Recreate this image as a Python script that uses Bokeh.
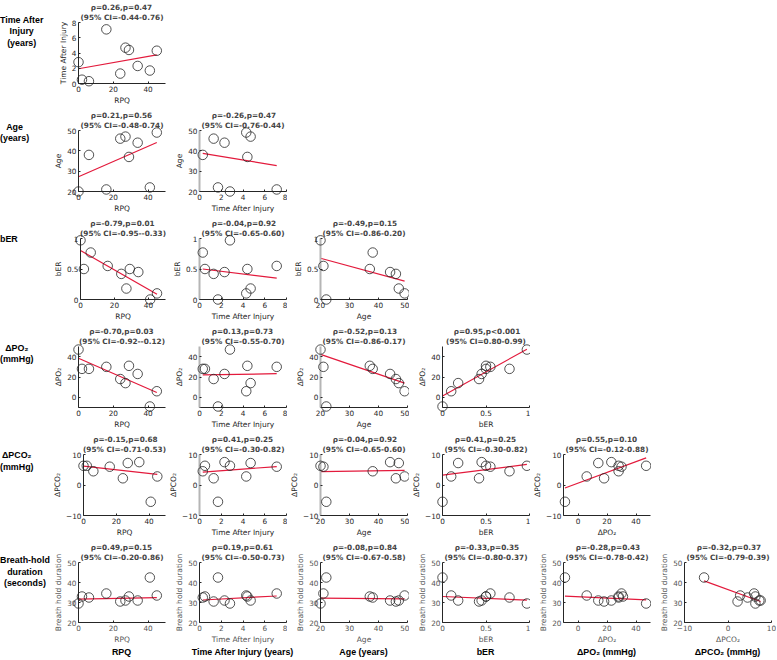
import numpy as np
from bokeh.plotting import figure
from bokeh.layouts import column, row
from bokeh.models import FixedTicker, Range1d, Div
from bokeh.embed import file_html
from bokeh.resources import INLINE

# ---------------- data (one value per subject, NaN = missing) ----------------
rpq = [0, 2, 6, 16, 24, 27, 29, 34, 41, 45]
time_after_injury = [2.8, 0.5, 0.3, 7.1, 1.3, 4.7, 4.4, 2.3, 1.7, 4.3]
age = [20, np.nan, 38, 21, 46, 47, 37, 44, 22, 49]
ber = [0.97, 0.5, 0.77, 0.55, 0.42, 0.18, 0.5, 0.45, 0.0, 0.1]
dpo2 = [47, 28, 28, 30, 18, 14, 31, 23, -9, 6]
dpco2 = [6.3, 6.3, 4.5, 6.0, 2.2, 7.2, np.nan, 7.5, -5.5, 2.8]
breath_hold = [29.5, 33, 32.5, 34.5, 30.5, 31, 33, 31, 42.5, 33.5]

variables = [rpq, time_after_injury, age, ber, dpo2, dpco2, breath_hold]
axis_names = ["RPQ", "Time After Injury", "Age", "bER", "ΔPO₂", "ΔPCO₂", "Breath hold duration"]
axis_limits = [(0, 50), (0, 8), (20, 50), (0, 1), (-10, 50), (-10, 10), (20, 50)]
axis_ticks = [[0, 20, 40], [0, 2, 4, 6, 8], [20, 30, 40, 50], [0, 0.5, 1],
              [0, 20, 40], [-10, 0, 10], [20, 30, 40, 50]]

col_titles = ["RPQ", "Time After Injury (years)", "Age (years)", "bER",
              "ΔPO₂ (mmHg)", "ΔPCO₂ (mmHg)"]
row_titles = [["Time After", "Injury", "(years)"], ["Age", "(years)"], ["bER"],
              ["ΔPO₂", "(mmHg)"], ["ΔPCO₂", "(mmHg)"],
              ["Breath-hold", "duration", "(seconds)"]]

# correlation statistics, row by row (lower triangle)
rho_text = [["0.26"],
            ["0.21", "-0.26"],
            ["-0.79", "-0.04", "-0.49"],
            ["-0.70", "0.13", "-0.52", "0.95"],
            ["-0.15", "0.41", "-0.04", "0.41", "0.55"],
            ["0.49", "0.19", "-0.08", "-0.33", "-0.28", "-0.32"]]
p_text = [["=0.47"],
          ["=0.56", "=0.47"],
          ["=0.01", "=0.92", "=0.15"],
          ["=0.03", "=0.73", "=0.13", "<0.001"],
          ["=0.68", "=0.25", "=0.92", "=0.25", "=0.10"],
          ["=0.15", "=0.61", "=0.84", "=0.35", "=0.43", "=0.37"]]
ci_text = [["-0.44-0.76"],
           ["-0.48-0.74", "-0.76-0.44"],
           ["-0.95--0.33", "-0.65-0.60", "-0.86-0.20"],
           ["-0.92--0.12", "-0.55-0.70", "-0.86-0.17", "0.80-0.99"],
           ["-0.71-0.53", "-0.30-0.82", "-0.65-0.60", "-0.30-0.82", "-0.12-0.88"],
           ["-0.20-0.86", "-0.50-0.73", "-0.67-0.58", "-0.80-0.37", "-0.78-0.42", "-0.79-0.39"]]

# ---------------- layout / style ----------------
FRAME_W = 87
FRAME_H = 63
LABEL_W = 50
col_widths = [116, 121, 122, 121, 121, 125]
col_left = [28, 33, 33, 33, 33, 33]
row_heights = [108, 108, 108, 108, 108, 106]
TOP = 20
BOTTOM_LABEL_H = 13
LINE_H = 11.5
LABEL_FONT = "8.9px"
row_label_offsets = [0.7, -0.6, 4, 4.4, 4, 1]   # first line centre below frame top
light_y_axis = {(1, 1), (2, 1), (3, 1), (4, 1), (2, 2), (3, 2), (4, 2)}

DARK = "#262626"
GREY_TEXT = "#555555"
RED = "#e31a3c"
TICK_FONT = "DejaVu Sans"

# approximate DejaVu Sans Bold advance widths (em) used to centre the shorter title line
GLYPH_W = {".": 0.380, ",": 0.380, "-": 0.415, "=": 0.838, "<": 0.838, "p": 0.716,
           "ρ": 0.716, "(": 0.457, ")": 0.457, "%": 1.002, " ": 0.348, "C": 0.734, "I": 0.372}
NBSP = "\u00a0"


def text_em(s):
    return sum(GLYPH_W.get(ch, 0.696) for ch in s)


def robust_fit(x, y, tune=4.685, iters=100):
    """Bisquare-weighted IRLS straight-line fit (like MATLAB robustfit)."""
    X = np.column_stack([np.ones_like(x), x])
    n, k = X.shape
    b = np.linalg.lstsq(X, y, rcond=None)[0]
    Q, _ = np.linalg.qr(X)
    lev = np.minimum(np.sum(Q ** 2, axis=1), 0.9999)
    adj = 1.0 / np.sqrt(1.0 - lev)
    for _ in range(iters):
        res = (y - X @ b) * adj
        rs = np.sort(np.abs(res))
        s = np.median(rs[k - 1:]) / 0.6745
        if s <= 1e-12:
            break
        u = res / (tune * s)
        w = np.where(np.abs(u) < 1, (1 - u ** 2) ** 2, 0.0)
        sw = np.sqrt(w)
        b_new = np.linalg.lstsq(X * sw[:, None], y * sw, rcond=None)[0]
        if np.allclose(b_new, b, rtol=1e-10, atol=1e-10):
            b = b_new
            break
        b = b_new
    return b[1], b[0]


def style_axis(ax, light=False, text_color=DARK):
    ax.axis_line_color = "#b5b5b5" if light else DARK
    ax.axis_line_width = 2 if light else 1
    ax.major_tick_line_color = DARK
    ax.major_tick_in = 2
    ax.major_tick_out = 0
    ax.minor_tick_line_color = None
    ax.major_label_text_font = TICK_FONT
    ax.major_label_text_font_size = "7.3px"
    ax.major_label_text_color = text_color
    ax.axis_label_text_font = TICK_FONT
    ax.axis_label_text_font_size = "7.5px"
    ax.axis_label_text_font_style = "normal"
    ax.axis_label_text_color = text_color
    ax.major_label_standoff = 2
    ax.axis_label_standoff = 1


rows = []
for r in range(6):
    yi = r + 1
    h = row_heights[r]
    pad = TOP + row_label_offsets[r] - LINE_H / 2
    html = ('<div style="padding-top:%.1fpx;font-family:\'Liberation Sans\';font-weight:bold;'
            'font-size:%s;line-height:%.1fpx;text-align:center;white-space:nowrap;color:black">%s</div>'
            % (pad, LABEL_FONT, LINE_H, "<br>".join(row_titles[r])))
    children = [Div(text=html, width=LABEL_W, height=h, margin=(0, 0, 0, 0))]
    txt_col = GREY_TEXT if r == 5 else DARK
    for c in range(r + 1):
        xi = c
        w = col_widths[c]
        lb = col_left[c]
        p = figure(width=w, height=h, output_backend="svg", toolbar_location=None,
                   min_border_left=lb, min_border_right=w - lb - FRAME_W,
                   min_border_top=TOP, min_border_bottom=h - TOP - FRAME_H,
                   x_range=Range1d(*axis_limits[xi]), y_range=Range1d(*axis_limits[yi]))
        p.outline_line_color = None
        p.grid.visible = False
        p.background_fill_color = "white"
        p.border_fill_color = None

        p.xaxis.ticker = FixedTicker(ticks=axis_ticks[xi])
        p.yaxis.ticker = FixedTicker(ticks=axis_ticks[yi])
        if xi == 3:
            p.xaxis.major_label_overrides = {0: "0", 0.5: "0.5", 1: "1"}
        if yi == 3:
            p.yaxis.major_label_overrides = {0: "0", 0.5: "0.5", 1: "1"}
        p.xaxis.axis_label = axis_names[xi]
        p.yaxis.axis_label = axis_names[yi]
        for ax in p.xaxis:
            style_axis(ax, text_color=txt_col)
        for ax in p.yaxis:
            style_axis(ax, light=(r, c) in light_y_axis, text_color=txt_col)

        x = np.array(variables[xi], dtype=float)
        y = np.array(variables[yi], dtype=float)
        m = ~np.isnan(x) & ~np.isnan(y)
        xs, ys = x[m], y[m]
        slope, icpt = robust_fit(xs, ys)
        lx = np.array([xs.min(), xs.max()])
        p.line(lx, slope * lx + icpt, line_color=RED, line_width=1.2)
        p.scatter(xs, ys, marker="circle", size=9.5, fill_color=None,
                  line_color=DARK, line_width=0.8, level="overlay")

        # two-line title, first line padded so that it sits centred over the second
        line1 = "ρ=" + rho_text[r][c] + ",p" + p_text[r][c]
        line2 = "(95% CI=" + ci_text[r][c] + ")"
        n_pad = max(0, int(round((text_em(line2) - text_em(line1)) / 2 / GLYPH_W[" "])))
        p.title.text = NBSP * n_pad + line1 + "\n" + line2
        p.title.align = "center"
        p.title.text_font = "DejaVu Sans"
        p.title.text_font_size = "7.3px"
        p.title.text_font_style = "bold"
        p.title.text_line_height = 1.2
        p.title.standoff = 0
        p.title.offset = 0
        children.append(p)
    rows.append(row(children, spacing=0))

# bottom bold column labels, centred under each frame
centres = []
x0 = LABEL_W
for c in range(6):
    centres.append(x0 + col_left[c] + FRAME_W / 2)
    x0 += col_widths[c]
total_w = LABEL_W + sum(col_widths)
spans = "".join(
    '<span style="position:absolute;left:%.1fpx;top:0;line-height:%dpx;'
    'transform:translateX(-50%%);white-space:nowrap">%s</span>' % (cx, BOTTOM_LABEL_H, t)
    for cx, t in zip(centres, col_titles))
bottom_html = ('<div style="position:relative;width:%dpx;height:%dpx;font-family:\'Liberation Sans\';'
               'font-weight:bold;font-size:%s;color:black">%s</div>'
               % (total_w, BOTTOM_LABEL_H, LABEL_FONT, spans))
bottom = Div(text=bottom_html, width=total_w, height=BOTTOM_LABEL_H, margin=(0, 0, 0, 0))

layout = column(rows + [bottom], spacing=0)
open("out.html", "w").write(file_html(layout, INLINE))
